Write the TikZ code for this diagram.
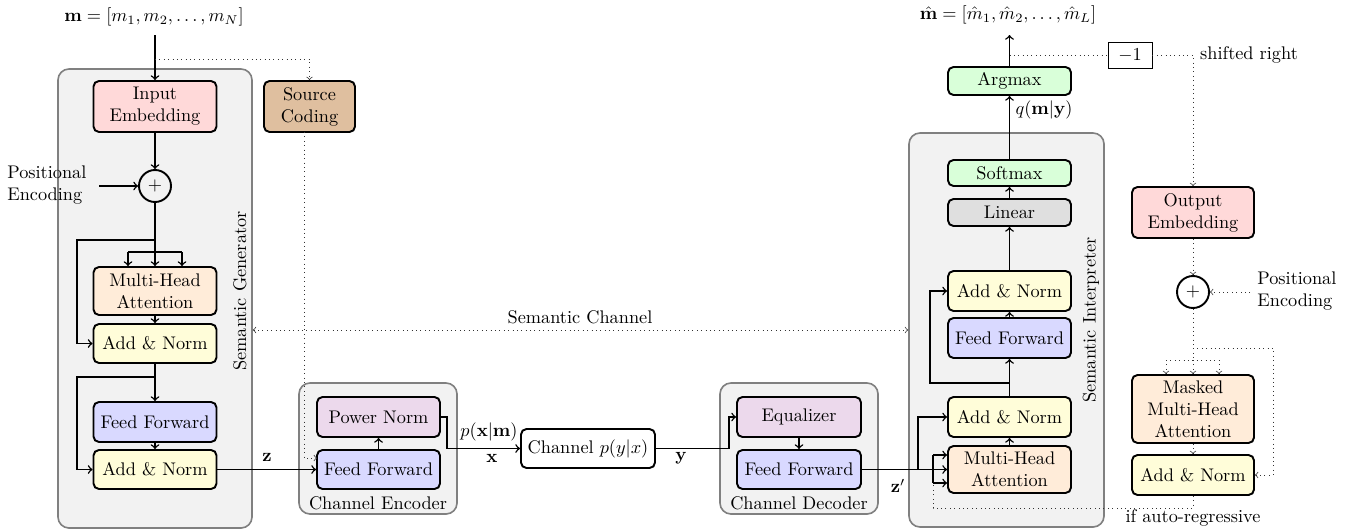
\documentclass[tikz,border=0pt]{standalone}
\usepackage{amsmath}
\begin{document}
\begin{tikzpicture}[x=0.547pt,y=-0.547pt,
  sz/.style 2 args={minimum width=#1*0.547pt, minimum height=#2*0.547pt},
  ibox/.style={draw, line width=1.05pt, rounded corners=3pt, align=center, inner sep=1pt},
  obox/.style={draw=gray, fill=gray!10, line width=0.9pt, rounded corners=6pt, inner sep=0pt},
  pbox/.style={draw, line width=1.05pt, circle, inner sep=0pt, minimum size=32*0.547pt},
  arr/.style={thick, ->},
  dotl/.style={dotted, black!80},
  lbl/.style={inner sep=1pt}
]
\useasboundingbox (0,0) rectangle (1351,531);

% outer boxes
\node[obox, sz={194}{459}] (sg) at (155,298.5) {};
\node[obox, sz={158}{131}] (ce) at (378,448.5) {};
\node[obox, sz={158}{131}] (cd) at (799,448.5) {};
\node[obox, sz={195}{394}] (si) at (1006.5,330) {};

% labels of outer boxes
\node[lbl, rotate=90] (sgl) at (240,291) {Semantic Generator};
\node[lbl, rotate=90] (sil) at (1091,320) {Semantic Interpreter};
\node[lbl] (cel) at (378,503) {Channel Encoder};
\node[lbl] (cdl) at (799,503) {Channel Decoder};

% semantic generator
\node[ibox, fill=red!15, sz={123}{51}] (ie) at (155,106.5) {Input\\Embedding};
\node[ibox, fill=brown!50, sz={91}{51}] (src) at (309.5,106.5) {Source\\Coding};
\node[pbox] (plus) at (155,186) {$+$};
\node[ibox, fill=orange!15, sz={123}{48}] (mha1) at (155,291) {Multi-Head\\Attention};
\node[ibox, fill=yellow!15, sz={123}{39}] (an1) at (155,343.5) {Add \& Norm};
\node[ibox, fill=blue!15, sz={123}{40}] (ff1) at (155,422) {Feed Forward};
\node[ibox, fill=yellow!15, sz={123}{39}] (an2) at (155,469.5) {Add \& Norm};

% channel encoder
\node[ibox, fill=violet!15, sz={123}{40}] (pn) at (378.5,417) {Power Norm};
\node[ibox, fill=blue!15, sz={123}{39}] (ceff) at (378.5,469.5) {Feed Forward};

% channel
\node[ibox, fill=white, sz={134}{39}] (ch) at (588,448.5) {Channel $p(y|x)$};

% channel decoder
\node[ibox, fill=violet!15, sz={124}{40}] (eq) at (799,417) {Equalizer};
\node[ibox, fill=blue!15, sz={124}{39}] (cdff) at (799,469.5) {Feed Forward};

% semantic interpreter
\node[ibox, fill=orange!15, sz={123}{47}] (imha) at (1009.5,469.5) {Multi-Head\\Attention};
\node[ibox, fill=yellow!15, sz={123}{40}] (ian1) at (1009.5,417) {Add \& Norm};
\node[ibox, fill=blue!15, sz={123}{40}] (iff) at (1009.5,338) {Feed Forward};
\node[ibox, fill=yellow!15, sz={123}{40}] (ian2) at (1009.5,291) {Add \& Norm};
\node[ibox, fill=gray!25, sz={123}{27}] (lin) at (1009.5,212.5) {Linear};
\node[ibox, fill=green!15, sz={123}{26}] (soft) at (1009.5,173) {Softmax};
\node[ibox, fill=green!15, sz={123}{28}] (argm) at (1009.5,81) {Argmax};

% decoder side branch
\node[draw, thin, sz={44}{26}, inner sep=1pt] (m1box) at (1130,55) {$-1$};
\node[ibox, fill=red!15, sz={122}{51}] (oe) at (1193,212.5) {Output\\Embedding};
\node[pbox] (plus2) at (1193,292) {$+$};
\node[ibox, fill=orange!15, sz={122}{68}] (mmha) at (1193,409) {Masked\\Multi-Head\\Attention};
\node[ibox, fill=yellow!15, sz={122}{40}] (an3) at (1193,475) {Add \& Norm};

% text labels
\node[lbl] (mlab) at (154,17) {$\mathbf{m}=[m_1,m_2,\ldots,m_N]$};
\node[lbl] (mhlab) at (1008,15) {$\hat{\mathbf{m}}=[\hat{m}_1,\hat{m}_2,\ldots,\hat{m}_L]$};
\node[lbl, anchor=west, align=left, inner sep=0pt] (pel) at (7,185) {Positional\\Encoding};
\node[lbl, anchor=west, align=left, inner sep=0pt] (per) at (1257,291) {Positional\\Encoding};
\node[lbl] (zl) at (267,457) {$\mathbf{z}$};
\node[lbl] (pxm) at (489,432) {$p(\mathbf{x}|\mathbf{m})$};
\node[lbl] (xl) at (492,458) {$\mathbf{x}$};
\node[lbl] (yl) at (681,458) {$\mathbf{y}$};
\node[lbl] (zpl) at (898,486) {$\mathbf{z}'$};
\node[lbl] (ql) at (1044,110) {$q(\mathbf{m}|\mathbf{y})$};
\node[lbl, anchor=west] (shl) at (1198,55) {shifted right};
\node[lbl] (arl) at (1193,518) {if auto-regressive};
\node[lbl] (scl) at (580,317) {Semantic Channel};

% coordinates
\coordinate (mtop) at (155,35);
\coordinate (sp) at (155,59);
\coordinate (pe1) at (99,186);
\coordinate (b1) at (155,240);
\coordinate (r1) at (77,240);
\coordinate (b2) at (155,252);
\coordinate (b2l) at (128,252);
\coordinate (b2r) at (182,252);
\coordinate (b3) at (155,377);
\coordinate (r2) at (77,377);
\coordinate (scb) at (304,132);
\coordinate (ceffin) at (317,458);
\coordinate (pnk) at (447,417);
\coordinate (chk) at (729,448.5);
\coordinate (zj) at (918,469.5);
\coordinate (zk) at (933,469.5);
\coordinate (zka) at (933,455);
\coordinate (zkb) at (933,483);
\coordinate (ib) at (1009.5,383);
\coordinate (ir) at (930,383);
\coordinate (mhtop) at (1009.5,35);
\coordinate (dsp) at (1009.5,55);
\coordinate (pe2) at (1250,292);
\coordinate (d1) at (1193,348);
\coordinate (d1r) at (1273,348);
\coordinate (d2) at (1193,360);
\coordinate (d2l) at (1166,360);
\coordinate (d2r) at (1219,360);
\coordinate (ar1) at (1193,508);
\coordinate (ar2) at (933,508);
\coordinate (scy) at (580,330);

% semantic generator connectors
\draw[arr] (mtop) -- (ie);
\draw[dotl, ->] (sp) -| (src);
\draw[arr] (ie) -- (plus);
\draw[arr] (pe1) -- (plus);
\draw[thick] (plus) -- (b2);
\draw[thick] (b2l) -- (b2r);
\draw[arr] (b2l) -- (b2l |- mha1.north);
\draw[arr] (b2) -- (mha1);
\draw[arr] (b2r) -- (b2r |- mha1.north);
\draw[arr] (b1) -- (r1) |- (an1.west);
\draw[arr] (mha1) -- (an1);
\draw[arr] (an1) -- (ff1);
\draw[arr] (b3) -- (r2) |- (an2.west);
\draw[arr] (ff1) -- (an2);
\draw[arr] (an2) -- (ceff);
\draw[dotl, ->] (scb) |- (ceffin);

% channel encoder / channel / decoder
\draw[arr] (ceff) -- (pn);
\draw[arr] (pn.east) -- (pnk) |- (ch.west);
\draw[arr] (ch.east) -- (chk) |- (eq.west);
\draw[arr] (eq) -- (cdff);

% semantic interpreter
\draw[thick] (cdff.east) -- (zk);
\draw[arr] (zk) -- (imha.west);
\draw[thick] (zka) -- (zkb);
\draw[arr] (zka) -- (imha.west |- zka);
\draw[arr] (zkb) -- (imha.west |- zkb);
\draw[arr] (zj) |- (ian1.west);
\draw[arr] (imha) -- (ian1);
\draw[arr] (ian1) -- (iff);
\draw[arr] (ib) -- (ir) |- (ian2.west);
\draw[arr] (iff) -- (ian2);
\draw[arr] (ian2) -- (lin);
\draw[arr] (lin) -- (soft);
\draw[arr] (soft) -- (argm);
\draw[arr] (argm) -- (mhtop);

% shifted-right branch
\draw[dotl] (dsp) -- (m1box);
\draw[dotl, ->] (m1box.east) -| (oe.north);
\draw[dotl, ->] (oe) -- (plus2);
\draw[dotl, ->] (pe2) -- (plus2);
\draw[dotl] (plus2) -- (d2);
\draw[dotl] (d2l) -- (d2r);
\draw[dotl, ->] (d2l) -- (d2l |- mmha.north);
\draw[dotl, ->] (d2) -- (mmha);
\draw[dotl, ->] (d2r) -- (d2r |- mmha.north);
\draw[dotl, ->] (d1) -- (d1r) |- (an3.east);
\draw[dotl, ->] (mmha) -- (an3);
\draw[dotl] (an3.south) -- (ar1) -- (ar2) -- (zkb);

% semantic channel
\draw[dotl, <->] (sg.east |- scy) -- (si.west |- scy);
\end{tikzpicture}
\end{document}
